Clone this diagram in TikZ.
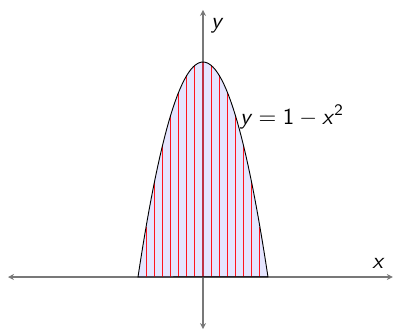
\documentclass[tikz,border=0pt]{standalone}
\usetikzlibrary{arrows.meta}
\definecolor{pAxis}{RGB}{120,120,120}
\definecolor{pStrip}{RGB}{255,20,30}
\definecolor{pMid}{RGB}{190,50,70}
\tikzset{
axisline/.style={{Stealth[length=2.6pt,width=2.6pt]}-{Stealth[length=2.6pt,width=2.6pt]},line width=0.8pt,draw=pAxis},
region/.style={fill=blue,fill opacity=0.1},
strip/.style={draw=pStrip,line width=0.45pt},
midstrip/.style={draw=pMid,line width=0.8pt},
curve/.style={draw=black,line width=0.4pt},
lbl/.style={font=\sffamily}
}

\begin{document}
\begin{tikzpicture}[x=1cm,y=3.3077cm]
\useasboundingbox (-3.123cm,-0.815cm) rectangle (2.954cm,4.262cm);
\coordinate (xmin) at (-3.0,0);
\coordinate (xmax) at (2.92,0);
\coordinate (ymin) at (0,-0.242);
\coordinate (ymax) at (0,1.242);
% axes
\draw[axisline] (xmin) -- (xmax);
\draw[axisline] (ymin) -- (ymax);
% region under the curve
\fill[region] plot[domain=-1:1,samples=60] (\x,{1-\x*\x}) -- cycle;
\foreach \k in {-7,...,-1,1,2,...,7}
  \draw[strip] ({\k/8},0) -- ({\k/8},{1-(\k/8)^2});
\draw[midstrip] (0,0) -- (0,1);
\draw[curve] plot[domain=-1:1,samples=60] (\x,{1-\x*\x}) -- cycle;
% labels
\node[lbl,above left] (xlbl) at (xmax) {\textit{x}};
\node[lbl,below right] (ylbl) at (ymax) {\textit{y}};
\node[lbl] (eqlbl) at (1.37,0.745) {\textit{y}\;$=$\;1\:$-$\:\textit{x}\textsuperscript{2}};
\end{tikzpicture}
\end{document}
